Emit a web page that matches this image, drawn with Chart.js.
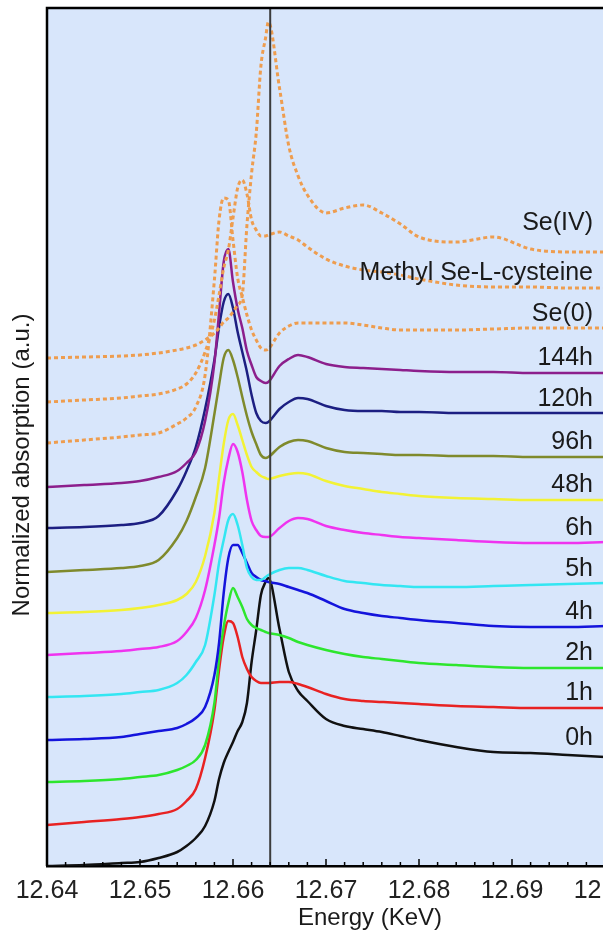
<!DOCTYPE html>
<html>
<head>
<meta charset="utf-8">
<title>Se K-edge XANES</title>
<script src="https://cdn.jsdelivr.net/npm/chart.js@4.4.1/dist/chart.umd.min.js"></script>
<style>
  html, body { margin: 0; padding: 0; background: #fff; overflow: hidden; }
  canvas { display: block; }
</style>
</head>
<body>
<canvas id="xanes" width="640" height="931"></canvas>
<script>
// energy grid (keV), denser around the white line
var energy = [12.640, 12.644, 12.648, 12.650, 12.652, 12.654, 12.655, 12.656, 12.657, 12.658,
              12.6585, 12.659, 12.6595, 12.660, 12.6605, 12.661, 12.6615, 12.662, 12.6625, 12.663,
              12.6635, 12.6638, 12.665, 12.666, 12.667, 12.668, 12.670, 12.672, 12.674, 12.676,
              12.678, 12.680, 12.684, 12.688, 12.692, 12.696, 12.700];

var tickLabels = [12.64, 12.65, 12.66, 12.67, 12.68, 12.69, 12.70];
var minorPerMajor = 5;
var edgeEnergy = 12.664;

// stacked normalized absorption (offset already included)
var seIV = [5.08, 5.09, 5.10, 5.11, 5.13, 5.16, 5.18, 5.21, 5.26, 5.33, 5.38, 5.44, 5.48, 5.54, 5.61, 5.71, 6.41, 6.93, 7.33, 8.00,
            8.28, 8.44, 7.78, 7.20, 6.90, 6.71, 6.53, 6.58, 6.61, 6.53, 6.42, 6.29, 6.24, 6.29, 6.17, 6.14, 6.14];
var methylSeCys = [4.64, 4.66, 4.68, 4.70, 4.72, 4.77, 4.82, 4.93, 5.14, 5.46, 5.71, 5.98, 6.16, 6.48, 6.78, 6.86, 6.72, 6.46, 6.36, 6.30,
                   6.30, 6.31, 6.34, 6.30, 6.26, 6.19, 6.07, 6.00, 5.96, 5.94, 5.91, 5.87, 5.81, 5.79, 5.79, 5.78, 5.78];
var se0 = [4.23, 4.26, 4.29, 4.31, 4.33, 4.42, 4.48, 4.59, 4.91, 5.86, 6.46, 6.68, 6.66, 6.26, 5.88, 5.69, 5.51, 5.36, 5.26, 5.18,
           5.16, 5.17, 5.33, 5.40, 5.43, 5.43, 5.43, 5.43, 5.41, 5.38, 5.36, 5.36, 5.36, 5.37, 5.38, 5.38, 5.38];
var h144 = [3.79, 3.81, 3.83, 3.85, 3.89, 3.95, 4.03, 4.14, 4.45, 5.03, 5.53, 6.04, 6.17, 5.84, 5.57, 5.38, 5.15, 5.01, 4.89, 4.85,
            4.83, 4.84, 5.00, 5.07, 5.11, 5.09, 5.02, 4.99, 4.98, 4.97, 4.96, 4.95, 4.94, 4.94, 4.93, 4.93, 4.93];
var h120 = [3.38, 3.39, 3.41, 3.43, 3.50, 3.76, 3.95, 4.19, 4.57, 5.06, 5.39, 5.64, 5.72, 5.58, 5.34, 5.14, 4.94, 4.71, 4.53, 4.45,
            4.43, 4.44, 4.57, 4.64, 4.68, 4.67, 4.60, 4.56, 4.55, 4.55, 4.54, 4.54, 4.53, 4.53, 4.53, 4.53, 4.53];
var h96 = [2.94, 2.96, 2.98, 3.00, 3.06, 3.28, 3.45, 3.69, 3.98, 4.52, 4.81, 5.08, 5.16, 5.06, 4.89, 4.69, 4.50, 4.34, 4.22, 4.11,
           4.08, 4.09, 4.19, 4.24, 4.26, 4.25, 4.18, 4.14, 4.13, 4.12, 4.11, 4.11, 4.10, 4.10, 4.09, 4.09, 4.09];
var h48 = [2.53, 2.54, 2.56, 2.58, 2.61, 2.66, 2.72, 2.84, 3.10, 3.53, 3.88, 4.22, 4.46, 4.52, 4.41, 4.26, 4.11, 3.99, 3.94, 3.90,
           3.88, 3.87, 3.90, 3.92, 3.93, 3.92, 3.85, 3.80, 3.77, 3.74, 3.72, 3.70, 3.68, 3.67, 3.66, 3.66, 3.66];
var h6 = [2.11, 2.13, 2.15, 2.17, 2.19, 2.25, 2.34, 2.48, 2.76, 3.21, 3.48, 3.83, 4.07, 4.22, 4.14, 3.94, 3.66, 3.45, 3.36, 3.30,
          3.29, 3.29, 3.38, 3.45, 3.48, 3.47, 3.40, 3.36, 3.33, 3.31, 3.29, 3.28, 3.26, 3.24, 3.23, 3.23, 3.24];
var h5 = [1.69, 1.70, 1.72, 1.74, 1.76, 1.83, 1.91, 2.04, 2.21, 2.71, 3.03, 3.26, 3.46, 3.52, 3.41, 3.21, 2.98, 2.89, 2.86, 2.86,
          2.89, 2.91, 2.96, 2.98, 2.98, 2.96, 2.90, 2.85, 2.83, 2.81, 2.80, 2.79, 2.79, 2.80, 2.81, 2.82, 2.83];
var h4 = [1.26, 1.27, 1.29, 1.32, 1.35, 1.38, 1.42, 1.48, 1.59, 1.91, 2.23, 2.73, 3.08, 3.21, 3.21, 3.13, 3.03, 2.93, 2.89, 2.86,
          2.85, 2.84, 2.82, 2.79, 2.76, 2.73, 2.65, 2.57, 2.53, 2.50, 2.48, 2.46, 2.43, 2.40, 2.39, 2.39, 2.40];
var h2 = [0.84, 0.85, 0.87, 0.89, 0.91, 0.96, 1.00, 1.06, 1.21, 1.63, 2.06, 2.39, 2.63, 2.78, 2.69, 2.59, 2.47, 2.41, 2.38, 2.36,
          2.34, 2.33, 2.31, 2.28, 2.24, 2.21, 2.16, 2.12, 2.09, 2.07, 2.05, 2.03, 2.01, 1.99, 1.98, 1.98, 1.98];
var h1 = [0.41, 0.44, 0.47, 0.49, 0.52, 0.57, 0.65, 0.77, 1.08, 1.56, 1.96, 2.29, 2.45, 2.43, 2.29, 2.09, 1.97, 1.89, 1.85, 1.83,
          1.83, 1.83, 1.84, 1.84, 1.82, 1.79, 1.72, 1.67, 1.65, 1.64, 1.63, 1.62, 1.60, 1.59, 1.58, 1.58, 1.58];
var h0 = [0.00, 0.01, 0.03, 0.04, 0.08, 0.14, 0.20, 0.28, 0.40, 0.65, 0.87, 1.03, 1.14, 1.24, 1.35, 1.44, 1.63, 2.04, 2.36, 2.71,
          2.84, 2.88, 2.37, 1.94, 1.75, 1.65, 1.47, 1.40, 1.37, 1.34, 1.30, 1.26, 1.19, 1.14, 1.13, 1.11, 1.09];

var yTop = 8.58;

var curves = [
    {name: 'Se(IV)', values: seIV, color: '#ee9d4f', dashed: true},
    {name: 'Methyl Se-L-cysteine', values: methylSeCys, color: '#ee9d4f', dashed: true},
    {name: 'Se(0)', values: se0, color: '#ee9d4f', dashed: true},
    {name: '144h', values: h144, color: '#8c1f8c'},
    {name: '120h', values: h120, color: '#1c1f82'},
    {name: '96h', values: h96, color: '#7f8a2c'},
    {name: '48h', values: h48, color: '#f2f235'},
    {name: '6h', values: h6, color: '#ef34ef'},
    {name: '5h', values: h5, color: '#33e6f2'},
    {name: '4h', values: h4, color: '#1414dc'},
    {name: '2h', values: h2, color: '#2de62d'},
    {name: '1h', values: h1, color: '#e82222'},
    {name: '0h', values: h0, color: '#111111'}
];

var FONT = '"Liberation Sans", Arial, sans-serif';

function isLabelled(v) {
    for (var i = 0; i < tickLabels.length; i++) {
        if (Math.abs(v - tickLabels[i]) < 1e-7) return true;
    }
    return false;
}

// highest value over the last few points, so the name clears the tail
function tailTop(values) {
    var top = -Infinity;
    for (var i = values.length - 4; i < values.length; i++) {
        if (values[i] > top) top = values[i];
    }
    return top;
}

function makeDatasets() {
    var sets = [];
    // edge reference line
    sets.push({
        label: 'edge',
        data: [{x: edgeEnergy, y: 0}, {x: edgeEnergy, y: yTop}],
        borderColor: '#3c3c3c',
        borderWidth: 2,
        pointRadius: 0
    });
    for (var i = 0; i < curves.length; i++) {
        var c = curves[i];
        var pts = [];
        for (var j = 0; j < energy.length; j++) {
            pts.push({x: energy[j], y: c.values[j]});
        }
        sets.push({
            label: c.name,
            data: pts,
            borderColor: c.color,
            borderWidth: c.dashed ? 3 : 2.5,
            borderDash: c.dashed ? [4, 3] : [],
            cubicInterpolationMode: 'monotone',
            pointRadius: 0,
            fill: false
        });
    }
    return sets;
}

var decorations = {
    id: 'decorations',
    beforeDraw: function (chart) {
        var a = chart.chartArea;
        var ctx = chart.ctx;
        ctx.save();
        ctx.fillStyle = '#d8e6fb';
        ctx.fillRect(a.left, a.top, a.right - a.left, a.bottom - a.top);
        ctx.restore();
    },
    afterDraw: function (chart) {
        var a = chart.chartArea;
        var ctx = chart.ctx;
        var xs = chart.scales.x;
        var ys = chart.scales.y;
        ctx.save();

        // left and top frame
        ctx.strokeStyle = '#000';
        ctx.lineWidth = 2.5;
        ctx.beginPath();
        ctx.moveTo(a.left, a.bottom);
        ctx.lineTo(a.left, a.top);
        ctx.lineTo(a.right + 10, a.top);
        ctx.stroke();

        // ticks point into the plot
        ctx.lineWidth = 1.5;
        xs.ticks.forEach(function (t) {
            var px = xs.getPixelForValue(t.value);
            var len = isLabelled(t.value) ? 7 : 4;
            ctx.beginPath();
            ctx.moveTo(px, a.bottom);
            ctx.lineTo(px, a.bottom - len);
            ctx.stroke();
        });

        // curve names above the right end of each trace
        ctx.font = '25px ' + FONT;
        ctx.fillStyle = '#1a1a1a';
        ctx.textAlign = 'right';
        ctx.textBaseline = 'alphabetic';
        curves.forEach(function (c) {
            ctx.fillText(c.name, a.right - 12, ys.getPixelForValue(tailTop(c.values)) - 7);
        });

        // axis titles
        ctx.font = '24px ' + FONT;
        ctx.textAlign = 'center';
        ctx.textBaseline = 'middle';
        ctx.fillText('Energy (KeV)', 370, 918);
        ctx.translate(22, 465);
        ctx.rotate(-Math.PI / 2);
        ctx.fillText('Normalized absorption (a.u.)', 0, 0);
        ctx.restore();
    }
};

function makeChart() {
    var canvas = document.getElementById('xanes');
    new Chart(canvas, {
        type: 'line',
        data: {datasets: makeDatasets()},
        plugins: [decorations],
        options: {
            responsive: false,
            animation: false,
            events: [],
            layout: {padding: {left: 47, top: 8, right: 35, bottom: 0}},
            plugins: {legend: {display: false}, tooltip: {enabled: false}},
            scales: {
                x: {
                    type: 'linear',
                    min: tickLabels[0],
                    max: tickLabels[tickLabels.length - 1],
                    afterBuildTicks: function (scale) {
                        var ticks = [];
                        for (var i = 0; i < tickLabels.length - 1; i++) {
                            var step = (tickLabels[i + 1] - tickLabels[i]) / minorPerMajor;
                            for (var k = 0; k < minorPerMajor; k++) {
                                ticks.push({value: tickLabels[i] + k * step});
                            }
                        }
                        ticks.push({value: tickLabels[tickLabels.length - 1]});
                        scale.ticks = ticks;
                    },
                    afterFit: function (scale) {
                        // keep the plot edges fixed; end labels may hang over
                        scale.height = 65;
                        scale.paddingLeft = 0;
                        scale.paddingRight = 0;
                    },
                    grid: {display: false, drawTicks: false},
                    border: {display: true, color: '#000', width: 2.5},
                    ticks: {
                        autoSkip: false,
                        maxRotation: 0,
                        padding: 10,
                        color: '#222',
                        font: {family: FONT, size: 25},
                        callback: function (v) {
                            return isLabelled(v) ? v.toFixed(2) : '';
                        }
                    }
                },
                y: {
                    type: 'linear',
                    display: false,
                    min: 0,
                    max: yTop
                }
            }
        }
    });
}

document.addEventListener('DOMContentLoaded', makeChart);
</script>
</body>
</html>
